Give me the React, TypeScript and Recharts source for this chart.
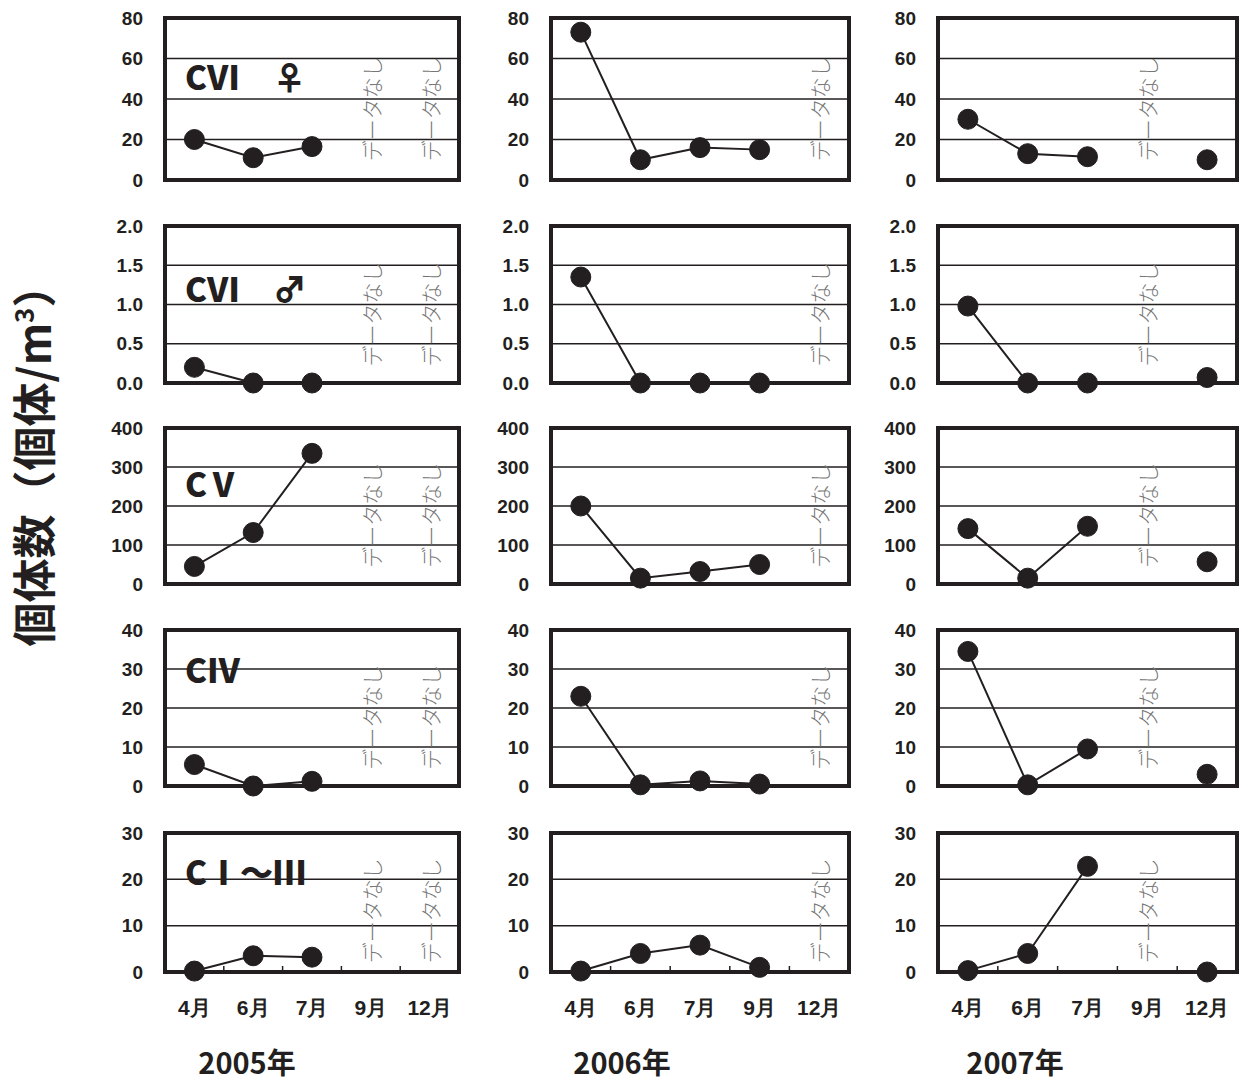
import React from "react";
import {
  LineChart,
  Line,
  XAxis,
  YAxis,
  CartesianGrid,
  ReferenceArea,
  ReferenceLine,
} from "recharts";

const months = ["4月", "6月", "7月", "9月", "12月"];
const years = ["2005年", "2006年", "2007年"];
const stages = ["CⅥ　♀", "CⅥ　♂", "CⅤ", "CⅣ", "CⅠ～Ⅲ"];

const yTicks = [
  [0, 20, 40, 60, 80],
  [0, 0.5, 1, 1.5, 2],
  [0, 100, 200, 300, 400],
  [0, 10, 20, 30, 40],
  [0, 10, 20, 30],
];

// months without data, per year
const noData = [["9月", "12月"], ["12月"], ["9月"]];

// values per year (2005, 2006, 2007), months 4,6,7,9,12
const cviFemale = [
  [20, 11, 16.5, null, null],
  [73, 10, 16, 15, null],
  [30, 13, 11.5, null, 10],
];
const cviMale = [
  [0.2, 0, 0, null, null],
  [1.35, 0, 0, 0, null],
  [0.98, 0, 0, null, 0.07],
];
const cv = [
  [45, 132, 335, null, null],
  [200, 15, 32, 50, null],
  [142, 15, 148, null, 57],
];
const civ = [
  [5.5, 0, 1.2, null, null],
  [23, 0.3, 1.3, 0.5, null],
  [34.5, 0.3, 9.5, null, 3],
];
const ci3 = [
  [0.2, 3.5, 3.2, null, null],
  [0.2, 4, 5.8, 1, null],
  [0.3, 4, 22.8, null, 0],
];
const series = [cviFemale, cviMale, cv, civ, ci3];

const INK = "#231f20";
const FONT = "'Liberation Sans', Arial, sans-serif";
const JP = "'Noto Sans CJK JP', sans-serif";

// plot-area geometry
const cols = [
  { x: 165, w: 294 },
  { x: 551, w: 298 },
  { x: 938, w: 299 },
];
const rows = [
  { y: 18, h: 162 },
  { y: 226, h: 157 },
  { y: 428, h: 156 },
  { y: 630, h: 156 },
  { y: 833, h: 139 },
];
const labelBase = [90, 302, 497, 683, 885];

const LEFT = 90;
const PAD = 14;

function NoDataLabel(props: any) {
  const vb = props.viewBox || {};
  const cy = vb.y + vb.height * 0.56;
  return (
    <text
      transform={`translate(${vb.x + 9}, ${cy}) rotate(-90)`}
      textAnchor="middle"
      fontSize={21}
      fill="#777"
      fontFamily={JP}
      fontWeight={300}
    >
      データなし
    </text>
  );
}

function MonthTick(props: any) {
  const { x, y, payload, step, showLabel } = props;
  const idx = Number(payload.value);
  const bx = x + step / 2;
  return (
    <g>
      {idx < months.length - 1 && (
        <line x1={bx} x2={bx} y1={y} y2={y - 6} stroke={INK} strokeWidth={1.5} />
      )}
      {showLabel && (
        <text
          x={x}
          y={y + 43}
          textAnchor="middle"
          fill={INK}
          fontSize={21}
          fontWeight={700}
          fontFamily={FONT}
        >
          {months[idx]}
        </text>
      )}
    </g>
  );
}

function Panel({ r, c }: { r: number; c: number }) {
  const isBottom = r === rows.length - 1;
  const ticks = yTicks[r];
  const max = ticks[ticks.length - 1];
  const data = months.map((m, i) => ({ i, m, v: series[r][c][i] }));
  const w = cols[c].w;
  const width = LEFT + w + PAD;
  const height = PAD + rows[r].h + (isBottom ? 50 : PAD);
  return (
    <div
      style={{
        position: "absolute",
        left: cols[c].x - LEFT,
        top: rows[r].y - PAD,
      }}
    >
      <LineChart
        width={width}
        height={height}
        data={data}
        margin={{ top: PAD, right: PAD, bottom: isBottom ? 0 : PAD, left: 0 }}
      >
        <CartesianGrid vertical={false} stroke={INK} strokeWidth={1.5} />
        <XAxis
          dataKey="i"
          type="number"
          domain={[-0.5, months.length - 0.5]}
          ticks={months.map((_, i) => i)}
          height={isBottom ? 50 : 0}
          axisLine={false}
          tickLine={false}
          tickSize={0}
          tickMargin={0}
          tick={<MonthTick step={w / months.length} showLabel={isBottom} />}
          interval={0}
        />
        <YAxis
          domain={[0, max]}
          ticks={ticks}
          width={LEFT}
          axisLine={false}
          tickLine={false}
          tickSize={0}
          tickMargin={22}
          interval={0}
          tickFormatter={(v: number) => (r === 1 ? v.toFixed(1) : String(v))}
          tick={{ fill: INK, fontSize: 19, fontWeight: 700, fontFamily: FONT }}
        />
        <ReferenceArea
          x1={-0.5}
          x2={months.length - 0.5}
          y1={0}
          y2={max}
          fill="none"
          stroke={INK}
          strokeWidth={4}
        />
        {noData[c].map((m) => (
          <ReferenceLine
            key={m}
            x={months.indexOf(m)}
            stroke="none"
            label={<NoDataLabel />}
          />
        ))}
        <Line
          dataKey="v"
          stroke={INK}
          strokeWidth={2}
          connectNulls={false}
          dot={{ r: 10, fill: INK, stroke: INK, strokeWidth: 1 }}
          activeDot={false}
          isAnimationActive={false}
        />
      </LineChart>
    </div>
  );
}

export default function App() {
  return (
    <div
      style={{
        position: "absolute",
        left: 0,
        top: 0,
        width: 1256,
        height: 1083,
        background: "#fff",
        overflow: "hidden",
      }}
    >
      {rows.map((_, r) =>
        cols.map((__, c) => <Panel key={`${r}-${c}`} r={r} c={c} />)
      )}
      <svg
        width={1256}
        height={1083}
        style={{ position: "absolute", left: 0, top: 0, pointerEvents: "none" }}
      >
        <text
          transform="translate(51, 455) rotate(-90)"
          textAnchor="middle"
          fontSize={44}
          fontWeight={700}
          fill={INK}
          fontFamily={JP}
        >
          個体数（個体/m
          <tspan fontSize={26} dy={-17}>
            3
          </tspan>
          <tspan dy={17}>）</tspan>
        </text>
        {years.map((y, i) => (
          <text
            key={y}
            x={[247, 622, 1015][i]}
            y={1074}
            textAnchor="middle"
            fontSize={29}
            fontWeight={700}
            fill={INK}
            fontFamily={JP}
          >
            {y}
          </text>
        ))}
        {stages.map((s, i) => (
          <text
            key={s}
            x={185}
            y={labelBase[i]}
            fontSize={33}
            fontWeight={900}
            fill={INK}
            fontFamily={JP}
          >
            {s}
          </text>
        ))}
      </svg>
    </div>
  );
}
